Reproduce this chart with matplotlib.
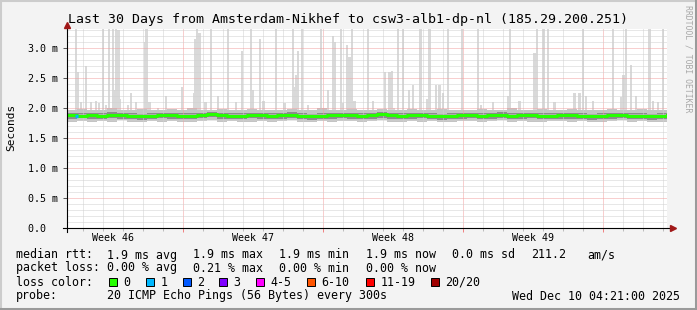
import numpy as np
import matplotlib
import matplotlib.pyplot as plt
from matplotlib.lines import Line2D
from matplotlib.patches import Rectangle

matplotlib.use("Agg")

MONO = "DejaVu Sans Mono"

# ── Data (days since start of the 30-day window, values in ms) ───────────────
spike_day = [0.48, 0.56, 0.73, 0.98, 1.23, 1.48, 1.64, 1.83, 1.98, 2.11,
             2.31, 2.43, 2.48, 2.59, 2.68, 3.06, 3.23, 3.48, 3.93, 3.99,
             4.14, 4.56, 4.98, 5.76, 6.36, 6.43, 6.51, 6.64, 6.94, 7.23,
             7.56, 8.09, 8.48, 8.78, 9.23, 9.31, 9.69, 9.84, 10.48, 10.89,
             11.31, 11.36, 11.48, 11.56, 11.76, 12.06, 12.73, 13.06, 13.31, 13.43,
             13.73, 13.84, 14.03, 14.14, 14.26, 14.39, 15.06, 15.31, 15.93, 16.14,
             16.26, 16.36, 16.56, 16.81, 17.11, 17.31, 17.69, 18.01, 18.14, 18.48,
             18.64, 18.81, 19.06, 19.78, 20.56, 20.73, 21.31, 22.06, 22.18, 22.64,
             23.39, 23.51, 23.84, 24.06, 24.39, 25.39, 25.64, 25.81, 25.98, 26.31,
             27.31, 27.74, 27.84, 27.98, 28.23, 28.48, 29.14, 29.31, 29.56, 29.81]
spike_max = [3.32, 2.60, 2.10, 2.70, 2.10, 2.12, 2.08, 3.32, 2.05, 3.32,
             3.32, 2.30, 3.32, 3.30, 2.15, 2.05, 2.25, 2.10, 3.10, 3.32,
             2.10, 2.00, 2.20, 2.35, 2.25, 3.15, 3.32, 3.25, 2.10, 3.32,
             2.20, 3.32, 2.10, 2.95, 3.32, 2.30, 3.15, 2.12, 3.32, 2.08,
             3.32, 2.35, 2.55, 2.95, 3.32, 2.05, 3.32, 2.30, 3.20, 3.10,
             3.32, 2.08, 3.05, 2.85, 3.32, 2.12, 3.32, 2.12, 2.60, 2.60,
             2.62, 2.00, 3.32, 3.32, 2.30, 2.38, 3.32, 2.15, 3.32, 2.38,
             2.38, 2.25, 3.32, 3.32, 3.32, 2.05, 2.10, 2.20, 3.32, 2.12,
             2.92, 3.32, 3.32, 3.32, 2.10, 2.25, 2.25, 3.32, 2.20, 2.12,
             3.32, 2.18, 2.55, 3.32, 2.72, 2.20, 3.32, 2.12, 2.10, 3.32]

band_day = np.arange(0, 30.5, 0.5)
median_rtt = [1.88, 1.87, 1.88, 1.87, 1.88, 1.88, 1.87, 1.86, 1.87, 1.88,
              1.88, 1.87, 1.87, 1.88, 1.89, 1.88, 1.87, 1.87, 1.88, 1.88,
              1.87, 1.88, 1.88, 1.87, 1.86, 1.87, 1.88, 1.88, 1.88, 1.87,
              1.88, 1.89, 1.88, 1.87, 1.88, 1.88, 1.87, 1.86, 1.87, 1.88,
              1.88, 1.87, 1.88, 1.88, 1.87, 1.88, 1.88, 1.87, 1.87, 1.88,
              1.88, 1.87, 1.86, 1.87, 1.88, 1.88, 1.87, 1.87, 1.86, 1.87,
              1.88]
smoke_lo = [1.77, 1.78, 1.76, 1.78, 1.77, 1.79, 1.77, 1.76, 1.78, 1.77,
            1.78, 1.77, 1.76, 1.78, 1.79, 1.77, 1.78, 1.77, 1.76, 1.78,
            1.77, 1.78, 1.79, 1.77, 1.76, 1.78, 1.77, 1.78, 1.78, 1.77,
            1.78, 1.79, 1.77, 1.76, 1.78, 1.77, 1.78, 1.76, 1.77, 1.78,
            1.78, 1.77, 1.78, 1.79, 1.77, 1.78, 1.77, 1.76, 1.78, 1.78,
            1.77, 1.78, 1.76, 1.77, 1.78, 1.79, 1.77, 1.78, 1.76, 1.77,
            1.78]
smoke_hi = [1.97, 1.98, 1.96, 1.97, 1.99, 1.97, 1.96, 1.98, 1.97, 1.96,
            1.98, 1.97, 1.99, 1.96, 1.97, 1.98, 1.97, 1.96, 1.98, 1.97,
            1.96, 1.97, 1.98, 1.96, 1.97, 1.99, 1.97, 1.96, 1.98, 1.97,
            1.97, 1.98, 1.96, 1.97, 1.98, 1.97, 1.96, 1.98, 1.97, 1.96,
            1.97, 1.98, 1.96, 1.97, 1.99, 1.97, 1.96, 1.98, 1.97, 1.96,
            1.98, 1.97, 1.96, 1.97, 1.98, 1.97, 1.96, 1.98, 1.97, 1.96,
            1.97]
core_lo = [1.82, 1.83, 1.81, 1.82, 1.83, 1.82, 1.81, 1.80, 1.82, 1.83,
           1.82, 1.81, 1.82, 1.83, 1.84, 1.82, 1.81, 1.82, 1.83, 1.82,
           1.81, 1.82, 1.83, 1.82, 1.80, 1.81, 1.82, 1.83, 1.82, 1.81,
           1.82, 1.83, 1.82, 1.81, 1.82, 1.83, 1.81, 1.80, 1.81, 1.82,
           1.83, 1.82, 1.82, 1.83, 1.81, 1.82, 1.83, 1.81, 1.81, 1.82,
           1.82, 1.81, 1.80, 1.81, 1.82, 1.83, 1.82, 1.81, 1.80, 1.81,
           1.82]
core_hi = [1.92, 1.91, 1.92, 1.91, 1.93, 1.92, 1.91, 1.90, 1.91, 1.92,
           1.92, 1.91, 1.92, 1.92, 1.93, 1.92, 1.91, 1.91, 1.92, 1.92,
           1.91, 1.92, 1.93, 1.91, 1.90, 1.91, 1.92, 1.92, 1.92, 1.91,
           1.92, 1.93, 1.92, 1.91, 1.92, 1.92, 1.91, 1.90, 1.91, 1.92,
           1.92, 1.91, 1.92, 1.93, 1.91, 1.92, 1.92, 1.91, 1.91, 1.92,
           1.92, 1.91, 1.90, 1.91, 1.92, 1.92, 1.91, 1.91, 1.90, 1.91,
           1.92]
loss1_day = [0.40, 0.55]
loss1_rtt = [1.87, 1.87]

week_lines = [5.825, 12.825, 19.825, 26.825]
week_labels = ["Week 46", "Week 47", "Week 48", "Week 49"]
y_major = [0.0, 0.5, 1.0, 1.5, 2.0, 2.5, 3.0]
y_labels = ["0.0  ", "0.5 m", "1.0 m", "1.5 m", "2.0 m", "2.5 m", "3.0 m"]

loss_names = ["0", "1", "2", "3", "4-5", "6-10", "11-19", "20/20"]
loss_colors = ["#26ff00", "#00b8ff", "#0059ff", "#7e00ff", "#ff00ff",
               "#ff5500", "#ff0000", "#a00000"]

# ── Figure ───────────────────────────────────────────────────────────────────
W, H = 697, 310
fig = plt.figure(figsize=(W / 100, H / 100), dpi=100, facecolor="#f3f3f3")
ax = fig.add_axes([66.5 / W, (H - 228) / H, 600 / W, 199.5 / H])
ax.set_facecolor("white")
ax.set_xlim(0, 30)
ax.set_ylim(0, 3.32)
for s in ax.spines.values():
    s.set_visible(False)

# smoke
ax.bar(spike_day, np.array(spike_max) - 1.9, bottom=1.9, width=0.12,
       color="#d9d9d9", linewidth=0, zorder=1)
ax.fill_between(band_day, smoke_lo, smoke_hi, step="post",
                color="#c4c4c4", linewidth=0, zorder=1.2)
ax.fill_between(band_day, core_lo, core_hi, step="post",
                color="#8c8c8c", linewidth=0, zorder=1.3)
ax.step(band_day, median_rtt, where="post", color=loss_colors[0],
        linewidth=2.2, zorder=3)
ax.plot(loss1_day, loss1_rtt, color=loss_colors[1], linewidth=2.4, zorder=3.1,
        solid_capstyle="butt")

# grid
ax.set_axisbelow(False)
ax.set_xticks(week_lines)
ax.set_xticks([d + 0.825 for d in range(30) if d + 0.825 not in week_lines],
              minor=True)
ax.set_yticks(y_major)
ax.set_yticklabels(y_labels, fontfamily=MONO, fontsize=7.2)
ax.set_yticks([v / 10 for v in range(1, 34) if v % 5], minor=True)
ax.set_xticklabels([])
ax.grid(which="minor", color="#d0d0d0", linestyle=(0, (1, 1)), linewidth=0.72)
ax.grid(which="major", color="#f2a0a0", linestyle=(0, (1, 1)), linewidth=0.72)
ax.tick_params(axis="y", which="major", length=3, width=0.7, color="#555555", pad=3)
ax.tick_params(axis="y", which="minor", length=0)
ax.tick_params(axis="x", which="major", length=3, width=0.7, color="#f08080")
ax.tick_params(axis="x", which="minor", length=2, width=0.7, color="#bbbbbb")

for d, lab in zip(week_lines, week_labels):
    ax.text(d - 3.5, -0.16, lab, ha="center", va="center",
            fontfamily=MONO, fontsize=7.2)

# axes with arrows
ax.plot([-0.18, 30.15], [0, 0], color="black", linewidth=0.8, clip_on=False, zorder=4)
ax.plot([0, 0], [-0.07, 3.36], color="black", linewidth=0.8, clip_on=False, zorder=4)
ax.plot([30.3], [0], marker=">", color="#a01818", markersize=4.5, clip_on=False, zorder=5)
ax.plot([0], [3.38], marker="^", color="#a01818", markersize=4.5, clip_on=False, zorder=5)

# ── Texts ────────────────────────────────────────────────────────────────────
def ftext(x, y, s, **kw):
    kw.setdefault("fontfamily", MONO)
    kw.setdefault("fontsize", 8.4)
    kw.setdefault("va", "center")
    fig.text(x / W, 1 - y / H, s, **kw)


ftext(348, 19, "Last 30 Days from Amsterdam-Nikhef to csw3-alb1-dp-nl (185.29.200.251)",
      ha="center", fontsize=9.5)
ftext(11, 127, "Seconds", ha="center", rotation=90, fontsize=8.0)
ftext(688, 59, "RRDTOOL / TOBI OETIKER", ha="center", rotation=270,
      fontsize=5.9, color="#a8a8a8")

row1 = [(16, "median rtt:"), (107, "1.9 ms avg"), (193, "1.9 ms max"),
        (279, "1.9 ms min"), (366, "1.9 ms now"), (452, "0.0 ms sd"),
        (531, "211.2"), (587, "am/s")]
row2 = [(16, "packet loss:"), (107, "0.00 % avg"), (193, "0.21 % max"),
        (279, "0.00 % min"), (366, "0.00 % now")]
for x, s in row1:
    ftext(x, 255, s)
for x, s in row2:
    ftext(x, 268, s)

ftext(16, 282, "loss color:")
sq_x = [109, 146, 183, 219, 256, 307, 366, 431]
for x, name, col in zip(sq_x, loss_names, loss_colors):
    fig.add_artist(Rectangle((x / W, 1 - 286 / H), 8 / W, 8 / H,
                             transform=fig.transFigure, facecolor=col,
                             edgecolor="black", linewidth=0.7))
    ftext(x + 14.5, 282, name)

ftext(16, 296, "probe:")
ftext(107, 296, "20 ICMP Echo Pings (56 Bytes) every 300s")
ftext(680, 296, "Wed Dec 10 04:21:00 2025", ha="right")

# 3D frame
fig.add_artist(Line2D([0.5 / W, 0.5 / W], [0, 1], color="#cccccc", linewidth=1.5))
fig.add_artist(Line2D([0, 1], [1 - 0.5 / H, 1 - 0.5 / H], color="#cccccc", linewidth=1.5))
fig.add_artist(Line2D([1 - 1.5 / W, 1 - 1.5 / W], [0, 1], color="#9a9a9a", linewidth=2.2))
fig.add_artist(Line2D([0, 1], [1.5 / H, 1.5 / H], color="#9a9a9a", linewidth=2.2))

fig.savefig("out.png", dpi=100, facecolor=fig.get_facecolor())
